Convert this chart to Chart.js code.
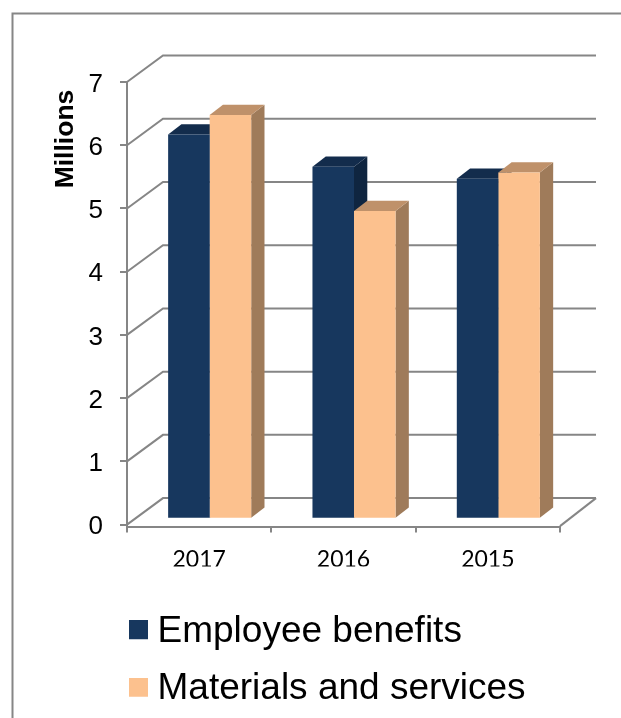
<!DOCTYPE html>
<html>
<head>
<meta charset="utf-8">
<style>
  html, body { margin: 0; padding: 0; background: #ffffff; }
  canvas { display: block; }
</style>
<script src="https://cdn.jsdelivr.net/npm/chart.js@4/dist/chart.umd.min.js"></script>
</head>
<body>
<canvas id="chart" width="621" height="718"></canvas>
<script>
const categories = ['2017', '2016', '2015'];
const employeeBenefits = [6.06, 5.55, 5.36];
const materialsServices = [6.37, 4.85, 5.46];
const yTicks = [0, 1, 2, 3, 4, 5, 6, 7];

const AXIS_GREY = '#868686';
const NAVY = { front: '#17375e', top: '#132c4c', side: '#0f2540' };
const PEACH = { front: '#fcc18e', top: '#bf916a', side: '#9f7b5a' };

// Perspective offsets of the 3D frame and of the bars inside it
const WALL_DX = 36, WALL_DY = -26.5;
const BAR_DX = 13.3, BAR_DY = -10.3;
const BAR_SHIFT = 10.5;

// Legend marker: a 19px square, raised 2px above the middle of its text line
function legendSwatch(color) {
  const c = document.createElement('canvas');
  c.width = 19;
  c.height = 23;
  const g = c.getContext('2d');
  g.fillStyle = color;
  g.fillRect(0, 0, 19, 19);
  return c;
}

function fillPoly(ctx, color, pts) {
  ctx.fillStyle = color;
  ctx.beginPath();
  pts.forEach((p, i) => (i ? ctx.lineTo(p[0], p[1]) : ctx.moveTo(p[0], p[1])));
  ctx.closePath();
  ctx.fill();
}

const frame3d = {
  id: 'frame3d',
  afterLayout(chart) {
    // Legend sits under the plot, left aligned with its swatches at x=129
    const lg = chart.legend;
    lg.left = 138 - lg.options.labels.padding;
    lg.top = 592.7;
    lg.right = chart.width;
    lg.bottom = chart.height;
  },
  beforeDraw(chart) {
    const ctx = chart.ctx;
    ctx.save();
    ctx.fillStyle = '#ffffff';
    ctx.fillRect(0, 0, chart.width, chart.height);

    // Outer chart border, running past the page edge on the right and bottom
    ctx.strokeStyle = AXIS_GREY;
    ctx.lineWidth = 2;
    ctx.strokeRect(12.5, 13.5, 640, 740);
    ctx.restore();
  },
  beforeDatasetsDraw(chart) {
    const ctx = chart.ctx;
    const y = chart.scales.y;
    const x = chart.scales.x;
    const left = x.left, right = x.right;

    ctx.save();
    ctx.strokeStyle = AXIS_GREY;
    ctx.lineWidth = 2;

    // Back wall gridlines and the diagonals on the side wall
    yTicks.forEach((v) => {
      const py = y.getPixelForValue(v);
      ctx.beginPath();
      ctx.moveTo(left, py);
      ctx.lineTo(left + WALL_DX, py + WALL_DY);
      ctx.lineTo(right + WALL_DX, py + WALL_DY);
      ctx.stroke();
    });

    // Right edge of the floor
    ctx.beginPath();
    ctx.moveTo(right, y.getPixelForValue(0) + 1.5);
    ctx.lineTo(right + WALL_DX, y.getPixelForValue(0) + WALL_DY);
    ctx.stroke();

    // Top and side faces of every bar, rear series first
    [[0, NAVY], [1, PEACH]].forEach(([idx, col]) => {
      chart.getDatasetMeta(idx).data.forEach((bar) => {
        const { x: cx, y: top, base, width } = bar.getProps(['x', 'y', 'base', 'width'], true);
        const l = cx - width / 2 + BAR_SHIFT, r = cx + width / 2 + BAR_SHIFT;
        fillPoly(ctx, col.side, [
          [r, top], [r + BAR_DX, top + BAR_DY], [r + BAR_DX, base + BAR_DY], [r, base]
        ]);
        fillPoly(ctx, col.top, [
          [l, top], [l + BAR_DX, top + BAR_DY], [r + BAR_DX, top + BAR_DY], [r, top]
        ]);
      });
    });
    ctx.restore();

    // Front faces are drawn by the library, slid into the depth of the frame
    ctx.save();
    ctx.translate(BAR_SHIFT, 0);
  },
  afterDatasetsDraw(chart) {
    const ctx = chart.ctx;
    ctx.restore();

    // Value axis caption
    ctx.save();
    ctx.translate(66, 139);
    ctx.rotate(-Math.PI / 2);
    ctx.fillStyle = '#000000';
    ctx.font = 'bold 26.5px "Liberation Sans"';
    ctx.textAlign = 'center';
    ctx.textBaseline = 'middle';
    ctx.fillText('Millions', 0, 0);
    ctx.restore();
  }
};

new Chart(document.getElementById('chart'), {
  type: 'bar',
  data: {
    labels: categories,
    datasets: [
      {
        label: 'Employee benefits',
        data: employeeBenefits,
        backgroundColor: NAVY.front,
        yAxisID: 'yBars',
        categoryPercentage: 0.5755,
        barPercentage: 1
      },
      {
        label: 'Materials and services',
        data: materialsServices,
        backgroundColor: PEACH.front,
        yAxisID: 'yBars',
        categoryPercentage: 0.5755,
        barPercentage: 1
      }
    ]
  },
  plugins: [frame3d],
  options: {
    responsive: false,
    animation: false,
    layout: { padding: { top: 82, right: 61, bottom: 26.5, left: 0 } },
    plugins: {
      title: { display: false },
      tooltip: { enabled: false },
      legend: {
        display: true,
        position: 'bottom',
        align: 'start',
        labels: {
          color: '#000000',
          font: { family: '"Liberation Sans"', size: 37, lineHeight: 1.2 },
          padding: 20.5,
          usePointStyle: true,
          pointStyleWidth: 1,
          generateLabels(chart) {
            return chart.data.datasets.map((ds, i) => ({
              text: ds.label,
              fillStyle: ds.backgroundColor,
              strokeStyle: ds.backgroundColor,
              lineWidth: 0,
              pointStyle: legendSwatch(ds.backgroundColor),
              datasetIndex: i
            }));
          }
        }
      }
    },
    scales: {
      x: {
        type: 'category',
        offset: true,
        afterFit(scale) { scale.height = 40; },
        border: { color: AXIS_GREY, width: 2 },
        grid: {
          offset: true,
          color: AXIS_GREY,
          lineWidth: 2,
          tickLength: 6,
          drawOnChartArea: false
        },
        ticks: {
          color: '#000000',
          padding: 13,
          maxRotation: 0,
          font: { family: 'Lato', size: 23 }
        }
      },
      y: {
        position: 'left',
        min: -0.03,
        max: 7,
        afterFit(scale) { scale.width = 127; },
        afterBuildTicks(scale) { scale.ticks = yTicks.map((value) => ({ value })); },
        border: { color: AXIS_GREY, width: 2 },
        grid: {
          color: AXIS_GREY,
          lineWidth: 2,
          tickLength: 7,
          drawOnChartArea: false
        },
        ticks: {
          color: '#000000',
          padding: 17,
          labelOffset: 2.5,
          font: { family: '"Liberation Sans"', size: 26 },
          autoSkip: false
        }
      },
      // Bars stand a little behind the front plane, so their zero sits higher
      yBars: {
        display: false,
        position: 'left',
        min: -0.138,
        max: 6.892
      }
    }
  }
});
</script>
</body>
</html>
